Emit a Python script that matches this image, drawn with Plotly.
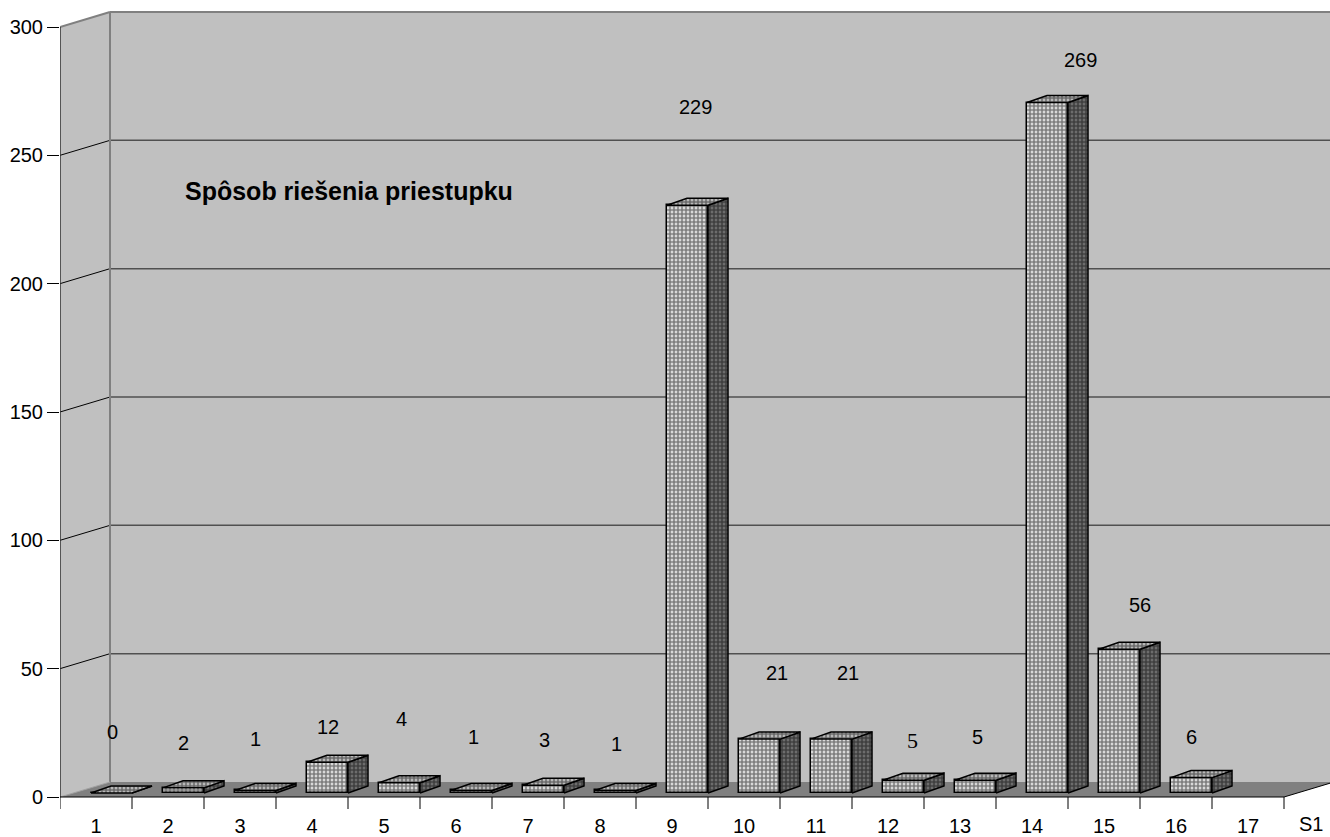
import plotly.graph_objects as go

# ---------------- data ----------------
categories = [str(i) for i in range(1, 18)]
values = [0, 2, 1, 12, 4, 1, 3, 1, 229, 21, 21, 5, 5, 269, 56, 6, None]
series_name = "S1"
title_text = "Spôsob riešenia priestupku"
y_ticks = [0, 50, 100, 150, 200, 250, 300]

# label nudges (pixels, relative to bar value / category centre) - styling only
LABEL_DX_PX = [16, 15, 15, 16, 17, 17, 16, 16, 23, 33, 32, 24, 17, 48, 36, 15, 0]
LABEL_DY_PX = [65, 49, 55, 39, 68, 57, 49, 50, 102, 70, 70, 44, 47, 47, 48, 45, 0]
LABEL_SERIF = [False] * 11 + [True] + [False] * 5

# ---------------- geometry ----------------
W_FIG, H_FIG = 1330, 837
L, R, T, B = 60, 0, 0, 27
PPX = 72.0                  # px per category
PPY = 770.0 / 300.0         # px per value unit
Y0_PX = 797                 # pixel row of value 0
plot_h = H_FIG - T - B
x_range = [0.5, 0.5 + (W_FIG - L - R) / PPX]
y_range = [-(T + plot_h - Y0_PX) / PPY, (Y0_PX - T) / PPY]

WX = 50 / PPX               # wall depth offset
WY = 15 / PPY
BW = 41 / PPX               # bar width
SX = 15.5 / PPX             # bar shift into depth
BASE = 4 / PPY
DX = 20 / PPX               # bar depth
DY = 7 / PPY

FONT = "Liberation Sans, Arial, sans-serif"
WALL = "#C0C0C0"
FLOOR = "#808080"
EDGE = "#808080"

n = len(categories)
xs = list(range(1, n + 1))

fig = go.Figure()

shapes = []
# left wall
shapes.append(dict(type="path", xref="x", yref="y", layer="below",
                   path=f"M0.5,0 L{0.5+WX},{WY} L{0.5+WX},{300+WY} L0.5,300 Z",
                   fillcolor=WALL, line=dict(width=0)))
# back wall
shapes.append(dict(type="rect", xref="x", yref="y", layer="below",
                   x0=0.5 + WX, x1=x_range[1] + 1, y0=WY, y1=300 + WY,
                   fillcolor=WALL, line=dict(width=0)))
# floor
xe = n + 0.5
shapes.append(dict(type="path", xref="x", yref="y", layer="below",
                   path=f"M0.5,0 L{xe},0 L{xe+WX},{WY} L{0.5+WX},{WY} Z",
                   fillcolor=FLOOR, line=dict(width=0)))
# gridlines
for v in y_ticks[1:-1]:
    shapes.append(dict(type="line", xref="x", yref="y", layer="below",
                       x0=0.5 + WX, x1=x_range[1] + 1, y0=v + WY, y1=v + WY,
                       line=dict(color="#505050", width=1.5)))
    shapes.append(dict(type="line", xref="x", yref="y", layer="below",
                       x0=0.5, x1=0.5 + WX, y0=v, y1=v + WY,
                       line=dict(color="black", width=1)))
# wall edges
shapes.append(dict(type="line", xref="x", yref="y", layer="below",
                   x0=0.5 + WX, x1=x_range[1] + 1, y0=300 + WY, y1=300 + WY,
                   line=dict(color=EDGE, width=2)))
shapes.append(dict(type="line", xref="x", yref="y", layer="below",
                   x0=0.5, x1=0.5 + WX, y0=300, y1=300 + WY,
                   line=dict(color=EDGE, width=2)))
shapes.append(dict(type="line", xref="x", yref="y", layer="below",
                   x0=0.5 + WX, x1=0.5 + WX, y0=WY, y1=300 + WY,
                   line=dict(color=EDGE, width=2)))
shapes.append(dict(type="line", xref="x", yref="y", layer="below",
                   x0=0.5, x1=0.5 + WX, y0=0, y1=WY,
                   line=dict(color="#A0A0A0", width=1)))
# front value axis
shapes.append(dict(type="line", xref="x", yref="y", layer="above",
                   x0=0.5, x1=0.5, y0=0, y1=300,
                   line=dict(color="#303030", width=1.5)))
# front category axis + right floor edge
shapes.append(dict(type="line", xref="x", yref="y", layer="above",
                   x0=0.5, x1=xe, y0=0, y1=0, line=dict(color="black", width=1)))
shapes.append(dict(type="line", xref="x", yref="y", layer="above",
                   x0=xe, x1=xe + WX, y0=0, y1=WY, line=dict(color="black", width=1)))
# category tick marks
for i in range(n + 1):
    xt = 0.5 + i
    shapes.append(dict(type="line", xref="x", yref="y", layer="above",
                       x0=xt, x1=xt, y0=0, y1=-12 / PPY,
                       line=dict(color="black", width=1)))

# ---------------- bars ----------------
bx, by = [], []
for c, v in zip(xs, values):
    if v is None:
        continue
    bx.append(c + SX)
    by.append(v)

CHECK = dict(shape=".", fgcolor="black", size=4, solidity=0.75)

fig.add_trace(go.Bar(
    x=bx, y=by, base=BASE, width=BW,
    marker=dict(color="white", line=dict(color="black", width=1.5),
                pattern=dict(bgcolor="white", **CHECK)),
    showlegend=False, hoverinfo="skip"))

side_x, side_y, top_x, top_y = [], [], [], []
for c, v in zip(xs, values):
    if v is None:
        continue
    x0 = c + SX - BW / 2
    x1 = c + SX + BW / 2
    yb = BASE
    yt = BASE + v
    side_x += [x1, x1 + DX, x1 + DX, x1, x1, None]
    side_y += [yb, yb + DY, yt + DY, yt, yb, None]
    top_x += [x0, x1, x1 + DX, x0 + DX, x0, None]
    top_y += [yt, yt, yt + DY, yt + DY, yt, None]

fig.add_trace(go.Scatter(
    x=side_x, y=side_y, mode="lines", fill="toself",
    fillcolor="#808080", line=dict(color="black", width=1.5),
    fillpattern=dict(bgcolor="#808080", **CHECK),
    showlegend=False, hoverinfo="skip"))
fig.add_trace(go.Scatter(
    x=top_x, y=top_y, mode="lines", fill="toself",
    fillcolor="#d8d8d8", line=dict(color="black", width=1.5),
    fillpattern=dict(bgcolor="#d8d8d8", **CHECK),
    showlegend=False, hoverinfo="skip"))

# ---------------- annotations ----------------
annotations = []
for c, v, dxp, dyp, serif in zip(xs, values, LABEL_DX_PX, LABEL_DY_PX, LABEL_SERIF):
    if v is None:
        continue
    annotations.append(dict(
        x=c + dxp / PPX, y=v + dyp / PPY, xref="x", yref="y",
        text=str(v), showarrow=False, xanchor="center", yanchor="middle",
        font=dict(family="Liberation Serif, Times New Roman, serif" if serif else FONT,
                  size=22 if serif else 20, color="black")))

annotations.append(dict(
    x=0.5 + (183 - L) / PPX, y=(Y0_PX - 191) / PPY, xref="x", yref="y",
    text=f"<b>{title_text}</b>", showarrow=False, xanchor="left", yanchor="middle",
    font=dict(family=FONT, size=25, color="black")))

annotations.append(dict(
    x=(1311 - L) / (W_FIG - L - R), y=(T + plot_h - 824) / plot_h,
    xref="paper", yref="paper", text=series_name, showarrow=False,
    xanchor="center", yanchor="middle",
    font=dict(family=FONT, size=20, color="black")))

fig.update_layout(
    width=W_FIG, height=H_FIG,
    margin=dict(l=L, r=R, t=T, b=B, pad=0, autoexpand=False),
    paper_bgcolor="white", plot_bgcolor="white",
    shapes=shapes, annotations=annotations,
    bargap=0,
    xaxis=dict(range=x_range, tickmode="array", tickvals=xs, ticktext=categories,
               ticks="", showgrid=False, zeroline=False, showline=False,
               automargin=False,
               tickfont=dict(family=FONT, size=20, color="black"),
               ticklabelstandoff=2, fixedrange=True),
    yaxis=dict(range=y_range, tickmode="array", tickvals=y_ticks,
               ticks="outside", ticklen=12, tickcolor="black", tickwidth=1,
               showgrid=False, zeroline=False, showline=False,
               automargin=False,
               tickfont=dict(family=FONT, size=20, color="black"),
               fixedrange=True),
)

fig.write_html("out.html",
               config={"displayModeBar": False},
               post_script="document.body.style.margin='0';document.body.style.overflow='hidden';")
